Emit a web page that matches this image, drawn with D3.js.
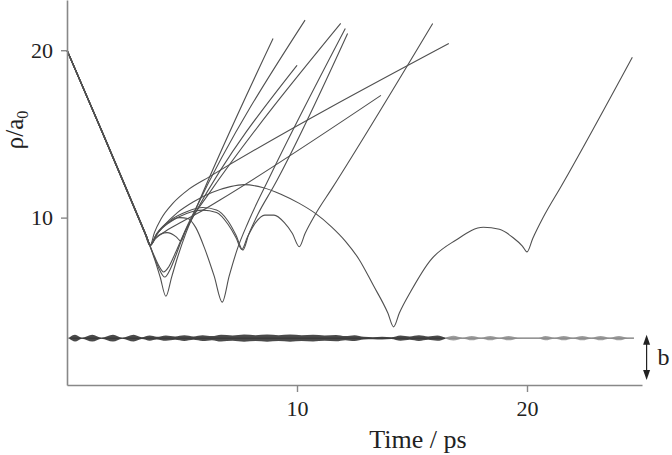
<!DOCTYPE html>
<html><head><meta charset="utf-8">
<script src="https://cdn.jsdelivr.net/npm/d3@7"></script>
<style>
html,body{margin:0;padding:0;background:#fff;}
svg{display:block;}
text{font-family:"Liberation Serif","DejaVu Serif",serif;fill:#222;}
</style></head>
<body>
<svg id="chart" width="672" height="455"></svg>
<script>
// ---- data (t in ps, rho in a0) ----
const xTicks = [10, 20];
const yTicks = [10, 20];
const xTitle = "Time / ps";
const bLevel = 2.8;

const trajLong = [[0,20],[1.5,15.2],[3,10.35],[3.45,8.9],[3.62,8.35],[3.85,8.9],[4.2,9.5],[4.8,10.3],[5.5,10.95],[6.3,11.5],[7.1,11.85],[7.7,11.97],[8.5,11.8],[9.3,11.4],[10.1,10.85],[10.8,10.25],[11.5,9.45],[12.1,8.6],[12.7,7.5],[13.3,6.0],[13.95,4.3],[14.2,3.47],[14.45,4.3],[14.95,5.6],[15.8,7.45],[16.9,8.65],[18.1,9.42],[18.8,9.3],[19.4,8.8],[19.8,8.3],[20.0,7.95],[20.25,8.75],[20.7,10.0],[21.5,11.9],[24.58,19.58]];
const trajV = [[0,20],[1.5,15.2],[3,10.3],[3.45,8.85],[3.8,7.55],[4.05,6.45],[4.3,5.3],[4.55,6.45],[4.8,7.6],[5.15,9.0],[5.6,10.5],[8.96,20.7]];
const trajU1 = [[0,20],[1.5,15.25],[3,10.4],[3.45,8.9],[3.75,7.8],[4.0,6.95],[4.25,6.45],[4.5,6.95],[4.75,7.8],[5.1,9.1],[5.6,10.55],[10.35,21.8]];
const trajU2 = [[0,20],[1.5,15.2],[3,10.35],[3.45,8.85],[3.75,7.85],[4.0,7.1],[4.2,6.75],[4.42,7.05],[4.7,7.85],[5.05,8.95],[5.6,10.35],[10.0,19.1]];
const trajHump = [[0,20],[1.5,15.2],[3,10.35],[3.4,9.0],[3.6,8.35],[3.85,8.8],[4.35,9.1],[4.75,8.85],[4.95,8.6],[5.15,9.2],[5.5,10.1],[6.1,11.3],[11.9,21.6]];
const trajK = [[0,20],[1.5,15.2],[3,10.35],[3.45,8.9],[3.62,8.35],[3.9,9.0],[4.4,9.7],[4.9,10.0],[5.25,9.95],[5.6,9.4],[6.0,8.1],[6.4,6.5],[6.75,4.95],[7.05,6.5],[7.4,8.1],[7.9,9.8],[8.8,12.4],[12.1,21.3]];
const trajF = [[0,20],[1.5,15.2],[3,10.35],[3.45,8.9],[3.62,8.35],[3.9,9.05],[4.5,9.85],[5.2,10.35],[5.9,10.6],[6.5,10.45],[7.0,9.8],[7.35,8.95],[7.65,8.06],[7.9,9.0],[8.3,10.2],[9.0,11.9],[12.2,21.0]];
const trajG = [[0,20],[1.5,15.2],[3,10.35],[3.45,8.9],[3.62,8.35],[3.9,9.0],[4.5,9.75],[5.2,10.25],[5.9,10.45],[6.5,10.3],[7.0,9.6],[7.35,8.8],[7.6,8.1],[7.85,8.85],[8.2,9.7],[8.6,10.15],[9.0,10.15],[9.45,9.7],[9.8,9.05],[10.1,8.26],[10.35,9.05],[10.8,10.2],[11.5,11.7],[15.9,21.6]];
const trajH = [[0,20],[1.5,15.2],[3,10.35],[3.45,8.9],[3.62,8.35],[3.8,9.1],[4.1,9.95],[4.6,10.85],[5.3,11.7],[6.2,12.45],[16.6,20.4]];
const trajI = [[0,20],[1.5,15.2],[3,10.35],[3.45,8.9],[3.62,8.35],[3.85,8.75],[4.3,9.2],[5.0,9.75],[5.8,10.35],[6.65,11.05],[13.65,17.3]];
const trajectories = [trajLong, trajV, trajU1, trajU2, trajHump, trajK, trajF, trajG, trajH, trajI];

// vibration envelope of the bound pair: [t, half-amplitude]
const bandDark = [[0.1,0.04],[0.35,0.2],[0.65,0.03],[1.1,0.2],[1.5,0.03],[2.0,0.2],[2.4,0.03],[2.9,0.2],[3.25,0.05],[3.6,0.15],[3.9,0.08],[4.3,0.16],[4.7,0.1],[5.1,0.17],[5.5,0.1],[5.9,0.17],[6.3,0.12],[6.7,0.2],[7.2,0.16],[7.7,0.21],[8.2,0.17],[8.7,0.21],[9.2,0.17],[9.7,0.21],[10.2,0.17],[10.7,0.2],[11.2,0.16],[11.7,0.19],[12.1,0.12],[12.5,0.17],[12.9,0.08],[13.3,0.06],[13.7,0.08],[14.1,0.05],[14.5,0.16],[14.9,0.1],[15.3,0.17],[15.7,0.1],[16.1,0.16],[16.45,0.03]];
const bandLight = [[16.45,0.02],[16.8,0.14],[17.2,0.03],[17.6,0.13],[18.0,0.03],[18.4,0.13],[18.8,0.03],[19.2,0.13],[19.6,0.03],[20.0,0.02],[20.5,0.02],[20.8,0.13],[21.2,0.03],[21.6,0.13],[22.0,0.03],[22.4,0.13],[22.8,0.03],[23.2,0.13],[23.6,0.03],[24.0,0.13],[24.35,0.03],[24.65,0.02]];
const arrowT = 25.2;
const arrowRange = [0.3, 3.0];

// ---- drawing ----
const svg = d3.select("#chart");
const x = d3.scaleLinear().domain([0, 25]).range([67, 642]);
const y = d3.scaleLinear().domain([0, 23]).range([385, 0]);

// vibration band
const area = d3.area().x(d => x(d[0])).y0(d => y(bLevel - d[1])).y1(d => y(bLevel + d[1])).curve(d3.curveMonotoneX);
svg.append("line").attr("x1", x(0.05)).attr("x2", x(24.65)).attr("y1", y(bLevel)).attr("y2", y(bLevel))
  .attr("stroke", "#666").attr("stroke-width", 1);
svg.append("path").datum(bandDark).attr("d", area).attr("fill", "#2a2a2a").attr("opacity", 0.85);
svg.append("path").datum(bandLight).attr("d", area).attr("fill", "#888").attr("opacity", 0.8);

// trajectories
const line = d3.line().x(d => x(d[0])).y(d => y(d[1])).curve(d3.curveMonotoneX);
svg.append("g").selectAll("path").data(trajectories).join("path")
  .attr("d", line).attr("fill", "none").attr("stroke", "#505050").attr("stroke-width", 1.1)
  .attr("stroke-linejoin", "round");

// axes
const xAxis = d3.axisBottom(x).tickValues(xTicks).tickSize(7).tickSizeOuter(0).tickPadding(8);
const gx = svg.append("g").attr("transform", `translate(0,${y(0)})`).call(xAxis);
const yAxis = d3.axisLeft(y).tickValues(yTicks).tickSize(6).tickSizeOuter(0).tickPadding(8);
const gy = svg.append("g").attr("transform", `translate(${x(0)},0)`).call(yAxis);
[gx, gy].forEach(g => {
  g.selectAll("path.domain").attr("stroke", "#888").attr("stroke-width", 1.6);
  g.selectAll(".tick line").attr("stroke", "#888").attr("stroke-width", 1.4);
  g.selectAll(".tick text").attr("font-family", "Liberation Serif, serif").attr("font-size", 22).attr("fill", "#222");
});

// titles
svg.append("text").attr("x", 418).attr("y", 448).attr("text-anchor", "middle")
  .attr("font-size", 26).text(xTitle);
const yl = svg.append("text").attr("transform", "translate(23,130) rotate(-90)")
  .attr("text-anchor", "middle").attr("font-size", 25);
yl.append("tspan").text("ρ/a");
yl.append("tspan").attr("font-size", 16).attr("dy", 5).text("0");

// b arrow
const ax = x(arrowT), yTop = y(arrowRange[1]), yBot = y(arrowRange[0]);
svg.append("line").attr("x1", ax).attr("x2", ax).attr("y1", yTop + 6).attr("y2", yBot - 6)
  .attr("stroke", "#222").attr("stroke-width", 1.2);
svg.append("path").attr("d", `M${ax},${yTop} L${ax-3.5},${yTop+10} L${ax+3.5},${yTop+10} Z`).attr("fill", "#222");
svg.append("path").attr("d", `M${ax},${yBot} L${ax-3.5},${yBot-10} L${ax+3.5},${yBot-10} Z`).attr("fill", "#222");
svg.append("text").attr("x", ax + 11).attr("y", (yTop + yBot) / 2 + 8).attr("font-size", 24).text("b");
</script>
</body></html>
